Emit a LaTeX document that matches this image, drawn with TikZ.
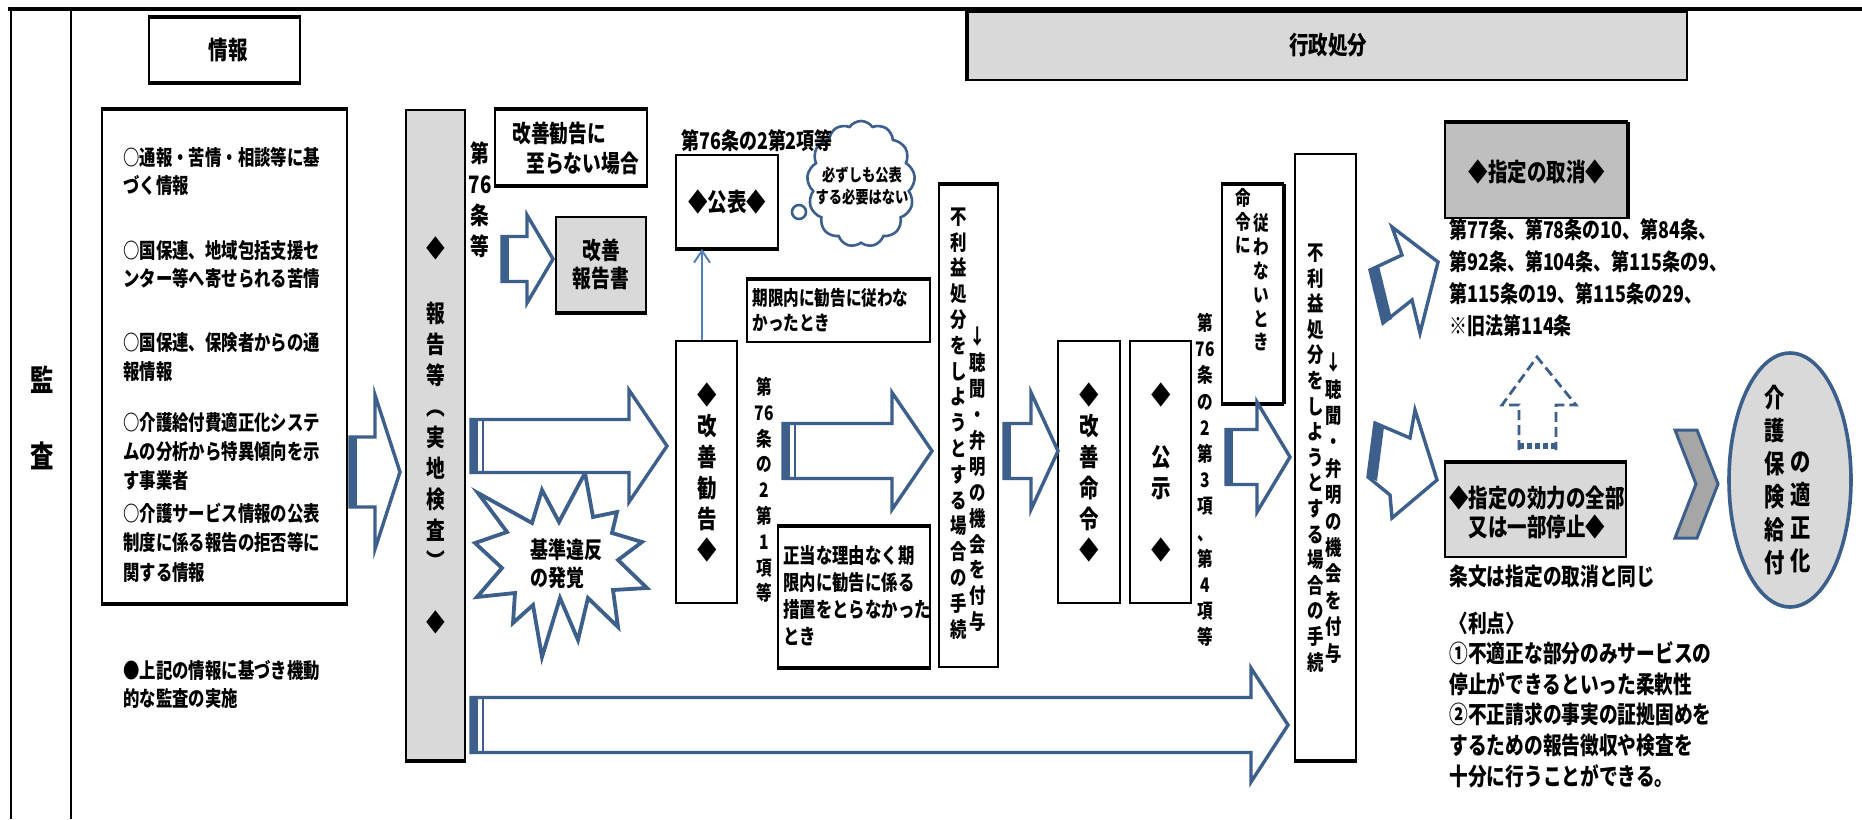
\documentclass[tikz,border=0pt]{standalone}
\usepackage{fontspec}
\setmainfont{Noto Sans CJK JP}[FakeStretch=0.78]
\usetikzlibrary{arrows.meta,shapes.symbols,shapes.geometric,fit}
\definecolor{ablue}{HTML}{3C5F8C}
\definecolor{lblue}{HTML}{4F81BD}
\definecolor{lgray}{HTML}{D9D9D9}
\definecolor{mgray}{HTML}{BFBFBF}
\definecolor{cgray}{HTML}{A6A6A6}
\newcommand\fz[2]{\fontsize{#1}{#2}\selectfont\bfseries}
\newcommand\blk[6]{%
  \draw[barrow] ({#1},{#4-#5}) -- ({#2},{#4-#5}) -- ({#2},{#4-#6}) -- ({#3},{#4}) -- ({#2},{#4+#6}) -- ({#2},{#4+#5}) -- ({#1},{#4+#5}) -- cycle;
  \fill[ablue] ({#1},{#4-#5}) rectangle ({#1+7},{#4+#5});}
\newcommand\strp[3]{\draw[ablue,line width=1pt] ({#1},{#2}) -- ({#1},{#3});}
\begin{document}
\begin{tikzpicture}[x=0.5pt,y=-0.5pt,
  box/.style={draw=black,line width=0.9pt,inner sep=0pt},
  gbox/.style={box,fill=lgray},
  thk/.style={line width=2pt},
  tx/.style={inner sep=0pt,align=left,anchor=west},
  vt/.style={inner sep=0pt,align=center,anchor=center},
  barrow/.style={draw=ablue,line width=1.7pt,fill=white,line join=miter},
]
\useasboundingbox (0,0) rectangle (1862,819);
\fill[white] (0,0) rectangle (1862,819);
% frame
\draw[line width=1.6pt] (8,9) -- (1862,9);
\draw[line width=1.2pt] (11,9) -- (11,819);
\draw[line width=0.8pt] (71,9) -- (71,819);
\node[vt,font=\fz{15}{18}] (kan) at (42,380) {監};
\node[vt,font=\fz{15}{18}] (sa) at (42,456) {査};

% 情報
\node[box,fit={(149,18) (300,82)}] (joho) {};
\draw[thk] (joho.north west) -- (joho.north east);
\draw[thk] (joho.south west) -- (joho.south east);
\node[vt,font=\fz{12.5}{15}] (johot) at (228,50) {情報};

% 行政処分
\node[gbox,fit={(968,12) (1687,80)}] (gyosei) {};
\draw[thk] (gyosei.north west) -- (gyosei.south west);
\node[vt,font=\fz{12.5}{15}] (gyoseit) at (1328,45) {行政処分};

% info box
\node[box,fit={(102,110) (347,603)}] (info) {};
\draw[thk] (info.north west) -- (info.north east);
\draw[thk] (info.south west) -- (info.south east);
\node[tx,font=\fz{10.5}{14}] (i1) at (123,171) {○通報・苦情・相談等に基\\づく情報};
\node[tx,font=\fz{10.5}{14}] (i2) at (123,264) {○国保連、地域包括支援セ\\ンター等へ寄せられる苦情};
\node[tx,font=\fz{10.5}{14.5}] (i3) at (123,357.5) {○国保連、保険者からの通\\報情報};
\node[tx,font=\fz{10.5}{14.3}] (i4) at (123,451.5) {○介護給付費適正化システ\\ムの分析から特異傾向を示\\す事業者};
\node[tx,font=\fz{10.5}{14.8}] (i5) at (123,542.5) {○介護サービス情報の公表\\制度に係る報告の拒否等に\\関する情報};
\node[tx,font=\fz{10.5}{14}] (i6) at (123,684) {●上記の情報に基づき機動\\的な監査の実施};

% 報告等 column
\node[gbox,fit={(406,110) (465,760)}] (hokoku) {};
\draw[thk] (hokoku.south west) -- (hokoku.south east);
\node[vt,font=\fz{12}{15}] (hk1) at (435.5,248) {◆};
\node[vt,font=\fz{12}{15.5}] (hk2) at (435.5,436) {報\\告\\等\\︵\\実\\地\\検\\査\\︶};
\node[vt,font=\fz{12}{15}] (hk3) at (435.5,622) {◆};
\node[vt,font=\fz{12}{15.5}] (j76) at (480,200) {第\\76\\条\\等};

% 改善勧告に至らない場合
\node[box,fit={(495,110) (647,185)}] (itaranai) {};
\draw[thk] (itaranai.north west) -- (itaranai.north east);
\draw[thk] (itaranai.south west) -- (itaranai.south east);
\node[tx,font=\fz{12}{15}] (itt) at (512,148) {改善勧告に\\\hspace*{7pt}至らない場合};

% 改善報告書
\node[gbox,fit={(556,217) (646,312)}] (hokokusho) {};
\draw[thk] (hokokusho.south west) -- (hokokusho.south east);
\node[vt,font=\fz{12}{14}] (hst) at (601,264) {改善\\報告書};

% 公表
\node[box,fit={(676,155) (778,248)}] (kohyo) {};
\draw[thk] (kohyo.south west) -- (kohyo.south east);
\node[vt,font=\fz{12.5}{15}] (kohyot) at (727,202) {◆公表◆};
\node[cloud,draw=ablue,line width=1.3pt,fill=white,cloud puffs=13,cloud puff arc=110,minimum width=54pt,minimum height=63pt,inner sep=0pt] (cloud) at (861,184) {};
\draw[ablue,line width=1.3pt,fill=white] (799,212) circle (3.5pt);
\node[vt,font=\fz{8.5}{11}] (cloudt) at (862,186) {必ずしも公表\\する必要はない};
\node[tx,font=\fz{11.5}{14}] (j762) at (681,141) {第76条の2第2項等};

% 期限内
\node[box,fit={(747,280) (930,342)}] (kigen) {};
\draw[thk] (kigen.north west) -- (kigen.north east);
\node[tx,font=\fz{10}{12.5}] (kigent) at (752,310.5) {期限内に勧告に従わな\\かったとき};

% 改善勧告
\node[box,fit={(676,341) (737,603)}] (kankoku) {};
\node[vt,font=\fz{12.5}{15.5}] (kankokut) at (707,472) {◆\\改\\善\\勧\\告\\◆};
\node[vt,font=\fz{10}{12.9}] (j7621) at (764,490) {第\\76\\条\\の\\2\\第\\1\\項\\等};

% 正当な理由
\node[box,fit={(778,527) (930,667)}] (seito) {};
\draw[thk] (seito.north west) -- (seito.north east);
\draw[thk] (seito.south west) -- (seito.south east);
\node[tx,font=\fz{10.5}{13.5}] (seitot) at (783,596) {正当な理由なく期\\限内に勧告に係る\\措置をとらなかった\\とき};

% 不利益 box 1
\node[box,fit={(939,185) (998,667)}] (furi1) {};
\draw[thk] (furi1.north west) -- (furi1.north east);
\node[vt,font=\fz{10.5}{12.9}] (f1a) at (959,423.5) {不\\利\\益\\処\\分\\を\\し\\よ\\う\\と\\す\\る\\場\\合\\の\\手\\続};
\node[vt,font=\fz{10.5}{12.95}] (f1b) at (978,479.5) {↓\\聴\\聞\\・\\弁\\明\\の\\機\\会\\を\\付\\与};

% 改善命令, 公示
\node[box,fit={(1058,341) (1120,603)}] (meirei) {};
\node[vt,font=\fz{12.5}{15.5}] (meireit) at (1089,472) {◆\\改\\善\\命\\令\\◆};
\node[box,fit={(1130,341) (1191,603)}] (koji) {};
\node[vt,font=\fz{12.5}{15.5}] (kojit) at (1161,472) {◆\\\mbox{}\\公\\示\\\mbox{}\\◆};
\node[vt,font=\fz{10}{13.1}] (j7634) at (1205,480) {第\\76\\条\\の\\2\\第\\3\\項\\、\\第\\4\\項\\等};

% 命令に従わないとき
\node[box,fit={(1222,185) (1283,403)}] (shitagawa) {};
\draw[thk] (shitagawa.north west) -- (shitagawa.north east);
\draw[thk] (shitagawa.south west) -- (shitagawa.south east);
\draw[thk] (shitagawa.north east) -- (shitagawa.south east);
\node[vt,font=\fz{10}{11.8}] (sha) at (1243,221) {命\\令\\に};
\node[vt,font=\fz{10}{11.9}] (shb) at (1261,282.5) {従\\わ\\な\\い\\と\\き};

% 不利益 box 2
\node[box,fit={(1295,154) (1356,760)}] (furi2) {};
\draw[thk] (furi2.south west) -- (furi2.south east);
\node[vt,font=\fz{10.5}{12.8}] (f2a) at (1316,458) {不\\利\\益\\処\\分\\を\\し\\よ\\う\\と\\す\\る\\場\\合\\の\\手\\続};
\node[vt,font=\fz{10.5}{13.2}] (f2b) at (1334,508) {↓\\聴\\聞\\・\\弁\\明\\の\\機\\会\\を\\付\\与};

% 指定の取消
\node[box,fill=mgray,fit={(1445,123) (1627,218)}] (torikeshi) {};
\draw[thk] (torikeshi.north west) -- (torikeshi.north east);
\draw[thk] (torikeshi.north east) -- (torikeshi.south east);
\node[vt,font=\fz{12.5}{15}] (torit) at (1537,172) {◆指定の取消◆};
\node[tx,font=\fz{11.5}{16}] (jobun) at (1449,278) {第77条、第78条の10、第84条、\\第92条、第104条、第115条の9、\\第115条の19、第115条の29、\\※旧法第114条};

% 指定の効力
\node[gbox,fit={(1445,463) (1626,557)}] (teishi) {};
\draw[thk] (teishi.north west) -- (teishi.north east);
\node[vt,font=\fz{12.5}{14.5}] (teishit) at (1537,512) {◆指定の効力の全部\\又は一部停止◆};
\node[tx,font=\fz{12}{15}] (onaji) at (1449,576) {条文は指定の取消と同じ};
\node[tx,font=\fz{12}{15.3}] (riten) at (1449,699.5) {〈利点〉\\①不適正な部分のみサービスの\\停止ができるといった柔軟性\\②不正請求の事実の証拠固めを\\するための報告徴収や検査を\\十分に行うことができる。};

% ellipse
\node[ellipse,draw=ablue,line width=1.8pt,fill=lgray,minimum width=61pt,minimum height=127pt,inner sep=0pt] (ell) at (1790,480) {};
\node[vt,font=\fz{13}{16.5}] (ella) at (1775,480.5) {介\\護\\保\\険\\給\\付};
\node[vt,font=\fz{13}{16.5}] (ellb) at (1801,512.5) {の\\適\\正\\化};

% chevron
\draw[draw=ablue,line width=1.5pt,fill=cgray,line join=miter] (1675,430) -- (1697,430) -- (1718,484) -- (1697,538) -- (1675,538) -- (1696,484) -- cycle;

% starburst
\draw[ablue,line width=1.9pt,fill=white,line join=miter] (478,493) -- (532,523) -- (542,490) -- (559,522) -- (585,473) -- (593,517) -- (617,512) -- (612,533) -- (642,542) -- (618,560) -- (647,588) -- (613,590) -- (618,627) -- (588,598) -- (578,640) -- (560,598) -- (542,657) -- (533,605) -- (513,623) -- (515,593) -- (477,597) -- (502,568) -- (475,543) -- (507,532) -- cycle;
\node[tx,font=\fz{11.5}{14}] (burstt) at (530,564) {基準違反\\の発覚};

% block arrows
\blk{350}{375}{400}{472}{35}{77}
\blk{502}{527}{553}{259}{22.5}{44}
\blk{471}{629}{667}{446}{26.5}{56}
\strp{483}{419.5}{472.5}
\blk{783}{892}{932}{451}{27.5}{58.5}
\strp{795}{423.5}{478.5}
\blk{1004}{1031}{1058}{451}{27.5}{58.5}
\blk{1226}{1257}{1290}{457}{27.5}{55}
\blk{471}{1251}{1288}{725}{27.5}{57}
\strp{483}{697.5}{752.5}

% tilted arrows
\draw[barrow] (1370,270) -- (1402,255) -- (1392,227) -- (1438,262) -- (1420,333) -- (1412,300) -- (1383,323) -- cycle;
\fill[ablue] (1370,270) -- (1379,266) -- (1392,319) -- (1383,323) -- cycle;
\draw[barrow] (1375,423) -- (1410,438) -- (1415,410) -- (1437,480) -- (1392,518) -- (1390,495) -- (1368,477) -- cycle;
\fill[ablue] (1375,423) -- (1384,427) -- (1377,481) -- (1368,477) -- cycle;

% dashed up arrow
\draw[ablue,line width=1.4pt,dash pattern=on 5pt off 2.5pt,fill=white] (1519,450) -- (1519,405) -- (1502,405) -- (1537,357) -- (1576,405) -- (1556,405) -- (1556,450);
\draw[ablue,line width=3pt,dash pattern=on 2.5pt off 1.5pt] (1519,446) -- (1556,446);

% thin arrow 改善勧告 -> 公表
\coordinate (ax) at (702,0);
\draw[lblue,line width=1pt,-{Straight Barb[length=6pt,width=8pt]}] (kankoku.north -| ax) -- (kohyo.south -| ax);
\end{tikzpicture}
\end{document}
